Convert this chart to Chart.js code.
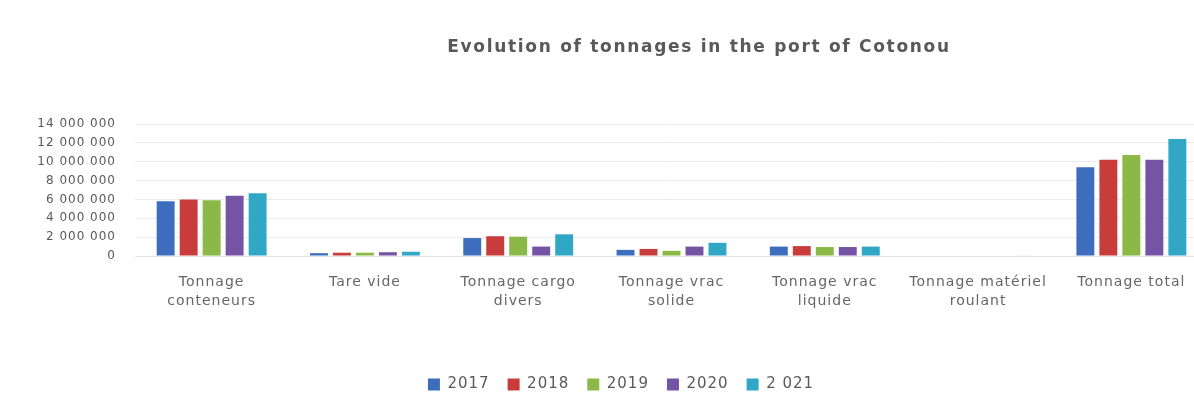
<!DOCTYPE html>
<html>
<head>
<meta charset="utf-8">
<script src="https://cdn.jsdelivr.net/npm/chart.js@4/dist/chart.umd.min.js"></script>
<style>
  html, body { margin: 0; padding: 0; background: #fff; overflow: hidden; }
  #wrap { width: 1194px; height: 403px; overflow: hidden; }
</style>
</head>
<body>
<div id="wrap"><canvas id="chart" width="1208" height="403"></canvas></div>
<script>
const categories = [
  ["Tonnage", "conteneurs"],
  "Tare vide",
  ["Tonnage cargo", "divers"],
  ["Tonnage vrac", "solide"],
  ["Tonnage vrac", "liquide"],
  ["Tonnage matériel", "roulant"],
  "Tonnage total"
];
const years = ["2017", "2018", "2019", "2020", "2 021"];
const colors = ["#3D6EBD", "#C83C3C", "#8CB847", "#7553A5", "#31A7C6"];

// tonnages per year, in the category order above
const t2017 = [5800000, 300000, 1900000, 650000, 1000000, 50000, 9400000];
const t2018 = [6000000, 350000, 2100000, 750000, 1050000, 50000, 10200000];
const t2019 = [5900000, 350000, 2050000, 550000, 950000, 50000, 10700000];
const t2020 = [6400000, 400000, 1000000, 1000000, 950000, 50000, 10200000];
const t2021 = [6650000, 450000, 2300000, 1400000, 1000000, 60000, 12400000];
const series = [t2017, t2018, t2019, t2020, t2021];

const yTicks = [0, 2000000, 4000000, 6000000, 8000000, 10000000, 12000000, 14000000];

const fmt = v => String(v).replace(/\B(?=(\d{3})+(?!\d))/g, " ");

// le texte de l'original est un peu étiré : léger espacement des lettres
const spacingPlugin = {
  id: "spacing",
  beforeUpdate(chart) { chart.ctx.letterSpacing = "1px"; },
  beforeDraw(chart) { chart.ctx.letterSpacing = "1px"; }
};

// titre dessiné hors du centre du canevas, comme dans l'original
const titlePlugin = {
  id: "offTitle",
  afterDraw(chart) {
    const ctx = chart.ctx;
    ctx.save();
    ctx.letterSpacing = "1.7px";
    ctx.font = "bold 17px 'DejaVu Sans'";
    ctx.fillStyle = "#595959";
    ctx.textAlign = "center";
    ctx.textBaseline = "middle";
    ctx.fillText("Evolution of tonnages in the port of Cotonou", 699, 48);
    ctx.restore();
  }
};

new Chart(document.getElementById("chart"), {
  type: "bar",
  data: {
    labels: categories,
    datasets: series.map((data, i) => ({
      label: years[i],
      data: data,
      backgroundColor: colors[i],
      categoryPercentage: 0.75,
      barPercentage: 0.78
    }))
  },
  options: {
    responsive: false,
    animation: false,
    layout: { padding: { left: 34, right: 0, top: 124, bottom: 1 } },
    plugins: {
      title: { display: false },
      tooltip: { enabled: false },
      legend: {
        position: "bottom",
        labels: {
          boxWidth: 12,
          boxHeight: 12,
          padding: 18,
          color: "#595959",
          font: { family: "DejaVu Sans", size: 15 }
        }
      }
    },
    scales: {
      x: {
        grid: { display: false, drawTicks: false },
        border: { display: true, color: "#e2e2e2" },
        ticks: {
          padding: 17,
          color: "#666",
          maxRotation: 0,
          autoSkip: false,
          font: { family: "DejaVu Sans", size: 14, lineHeight: 1.36 }
        },
        afterFit: s => { s.height = 103; }
      },
      y: {
        min: 0,
        max: 14000000,
        grid: { color: "#ececec", drawTicks: false },
        border: { display: false },
        afterBuildTicks: s => { s.ticks = yTicks.map(v => ({ value: v })); },
        ticks: {
          padding: 19,
          autoSkip: false,
          color: "#595959",
          font: { family: "DejaVu Sans", size: 12 },
          callback: v => fmt(v)
        },
        afterFit: s => { s.width = 101; }
      }
    }
  },
  plugins: [spacingPlugin, titlePlugin]
});
</script>
</body>
</html>
